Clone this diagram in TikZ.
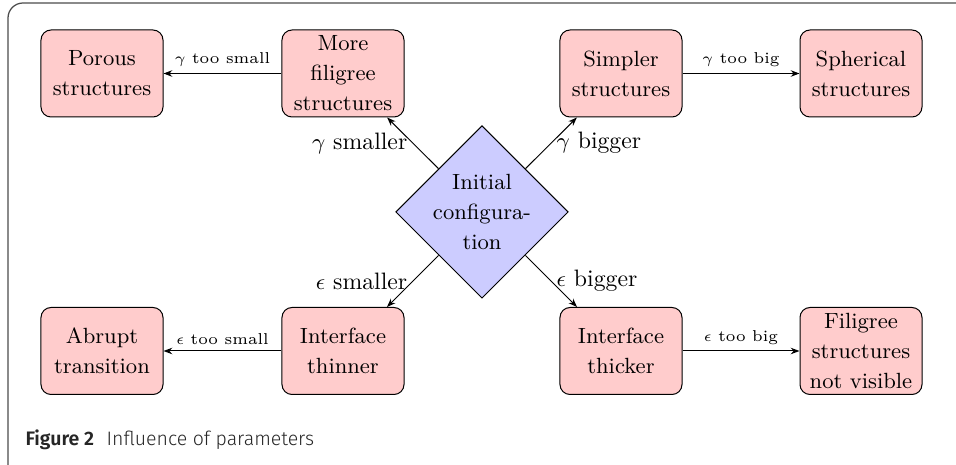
\documentclass[tikz,border=0pt]{standalone}
\usepackage{fontspec}
\newfontfamily\capfont{Fira Sans}[UprightFont=* Light, BoldFont=* SemiBold]
\usetikzlibrary{shapes.geometric,arrows.meta}
\begin{document}
\begin{tikzpicture}[x=0.4pt,y=-0.4pt,
 box/.style={draw, fill=red!20, rounded corners=4pt, minimum width=48.8pt, minimum height=34.8pt, align=center, inner sep=1pt, font=\fontsize{8.8}{12}\selectfont},
 conf/.style={draw, fill=blue!20, diamond, aspect=1, minimum size=69pt, inner sep=0pt},
 ctext/.style={align=center, inner sep=0pt, font=\fontsize{8.8}{12}\selectfont},
 arr/.style={-{Stealth[length=3.5pt,width=2.6pt]}, line width=0.4pt},
 mlab/.style={font=\fontsize{9.5}{11}\selectfont, inner sep=2pt},
 lab/.style={font=\fontsize{6.3}{7.5}\selectfont, inner sep=2.5pt}]
\useasboundingbox (0,0) rectangle (956,465);
\begin{scope}
\clip (0,0) rectangle (956,465);
\draw[black!70, line width=0.5pt, rounded corners=6pt] (8,3) rectangle (990,490);
\end{scope}
\node[box] (por) at (102,73.5) {Porous\\structures};
\node[box] (fil) at (343,73.5) {More\\filigree\\structures};
\node[box] (sim) at (621,73.5) {Simpler\\structures};
\node[box] (sph) at (861,73.5) {Spherical\\structures};
\node[box] (abr) at (102,351) {Abrupt\\transition};
\node[box] (thn) at (343,351) {Interface\\thinner};
\node[box] (thk) at (621,351) {Interface\\thicker};
\node[box] (fsn) at (861,351) {Filigree\\structures\\not visible};
\node[conf] (ini) at (482,212) {};
\node[ctext] (initxt) at (ini.center) {Initial\\configura-\\tion};
\draw[arr] (fil) -- node[lab, above] {$\gamma$ too small} (por);
\draw[arr] (sim) -- node[lab, above] {$\gamma$ too big} (sph);
\draw[arr] (thn) -- node[lab, above] {$\epsilon$ too small} (abr);
\draw[arr] (thk) -- node[lab, above] {$\epsilon$ too big} (fsn);
\draw[arr] (ini) -- node[mlab, left] {$\gamma$ smaller} (fil);
\draw[arr] (ini) -- node[mlab, right] {$\gamma$ bigger} (sim);
\draw[arr] (ini) -- node[mlab, left] {$\epsilon$ smaller} (thn);
\draw[arr] (ini) -- node[mlab, right] {$\epsilon$ bigger} (thk);
\node[anchor=base west, inner sep=0pt, text=black!85, font=\capfont\fontsize{7.8}{9}\selectfont] (cap) at (25,446) {\textbf{Figure 2}\hspace{5pt}Influence of parameters};
\end{tikzpicture}
\end{document}
